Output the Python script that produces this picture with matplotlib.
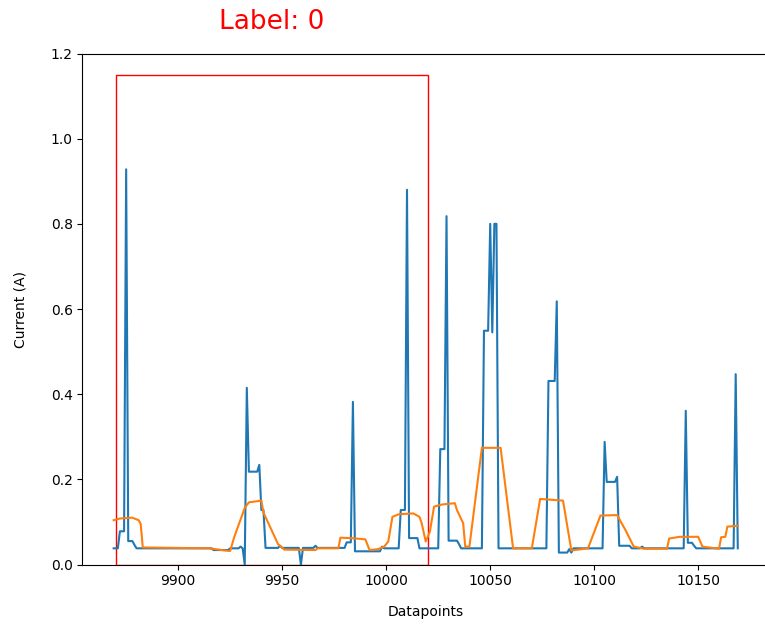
import matplotlib
matplotlib.use("Agg")
import matplotlib.pyplot as plt
from matplotlib.patches import Rectangle

# current signal (vertices)
current_x = [9869, 9871, 9872, 9874, 9875, 9876, 9878, 9879, 9880, 9916,
             9917, 9924, 9925, 9929, 9930, 9931, 9932, 9933, 9934, 9938,
             9939, 9940, 9941, 9942, 9948, 9949, 9950, 9958, 9959, 9960,
             9965, 9966, 9967, 9980, 9981, 9983, 9984, 9985, 9997, 9998,
             9999, 10006, 10007, 10009, 10010, 10011, 10015, 10016, 10025, 10026,
             10028, 10029, 10030, 10034, 10035, 10036, 10046, 10047, 10049, 10050,
             10051, 10052, 10053, 10054, 10077, 10078, 10081, 10082, 10083, 10087,
             10088, 10089, 10090, 10104, 10105, 10106, 10110, 10111, 10112, 10117,
             10118, 10122, 10123, 10124, 10143, 10144, 10145, 10147, 10148, 10149,
             10167, 10168, 10169]
current_y = [0.038, 0.038, 0.078, 0.078, 0.928, 0.055, 0.055, 0.046, 0.038, 0.038,
             0.034, 0.034, 0.038, 0.038, 0.042, 0.038, 0.0, 0.415, 0.218, 0.218,
             0.234, 0.128, 0.128, 0.039, 0.039, 0.044, 0.039, 0.039, 0.0, 0.039,
             0.039, 0.044, 0.039, 0.039, 0.052, 0.052, 0.382, 0.031, 0.031, 0.042,
             0.038, 0.038, 0.128, 0.128, 0.880, 0.062, 0.062, 0.038, 0.038, 0.271,
             0.271, 0.818, 0.056, 0.056, 0.048, 0.038, 0.038, 0.549, 0.549, 0.800,
             0.545, 0.800, 0.800, 0.038, 0.038, 0.431, 0.431, 0.618, 0.028, 0.028,
             0.036, 0.028, 0.038, 0.038, 0.288, 0.194, 0.194, 0.206, 0.044, 0.044,
             0.038, 0.038, 0.042, 0.038, 0.038, 0.361, 0.051, 0.051, 0.044, 0.038,
             0.038, 0.447, 0.038]

# smoothed signal
smooth_x = [9869, 9872, 9878, 9881, 9882, 9883, 9915, 9924, 9925, 9927,
            9932, 9934, 9940, 9941, 9948, 9951, 9966, 9967, 9977, 9978,
            9983, 9988, 9990, 9992, 9996, 9999, 10001, 10003, 10006, 10013,
            10016, 10017, 10019, 10021, 10023, 10027, 10033, 10034, 10037, 10038,
            10040, 10046, 10055, 10061, 10070, 10074, 10085, 10089, 10097, 10103,
            10111, 10115, 10119, 10124, 10135, 10136, 10141, 10150, 10152, 10160,
            10161, 10163, 10164, 10169]
smooth_y = [0.104, 0.108, 0.110, 0.104, 0.095, 0.040, 0.038, 0.032, 0.032, 0.065,
            0.133, 0.146, 0.150, 0.122, 0.048, 0.035, 0.034, 0.038, 0.038, 0.063,
            0.062, 0.060, 0.059, 0.034, 0.036, 0.042, 0.054, 0.112, 0.118, 0.120,
            0.112, 0.098, 0.054, 0.077, 0.136, 0.141, 0.144, 0.128, 0.097, 0.042,
            0.042, 0.274, 0.274, 0.038, 0.038, 0.154, 0.150, 0.033, 0.038, 0.115,
            0.116, 0.081, 0.042, 0.037, 0.037, 0.061, 0.065, 0.065, 0.042, 0.037,
            0.064, 0.065, 0.089, 0.091]

# labelled window
window_start = 9870
window_width = 150
window_height = 1.15
window_label = "Label: 0"

fig = plt.figure(figsize=(7.65, 6.28), dpi=100)
ax = fig.add_axes([0.1078, 0.1011, 0.8974, 0.8137])

ax.plot(current_x, current_y)
ax.plot(smooth_x, smooth_y)

ax.add_patch(Rectangle((window_start, 0), window_width, window_height,
                       edgecolor="red", facecolor="none", linewidth=1))
ax.text(window_start + window_width / 2, 1.273, window_label, color="red",
        fontsize=19, ha="center", va="center")

ax.set_ylim(0, 1.2)
ax.set_xlabel("Datapoints", labelpad=12)
ax.set_ylabel("Current (A)", labelpad=17)
ax.spines["right"].set_visible(False)

fig.savefig("out.png", dpi=100)
